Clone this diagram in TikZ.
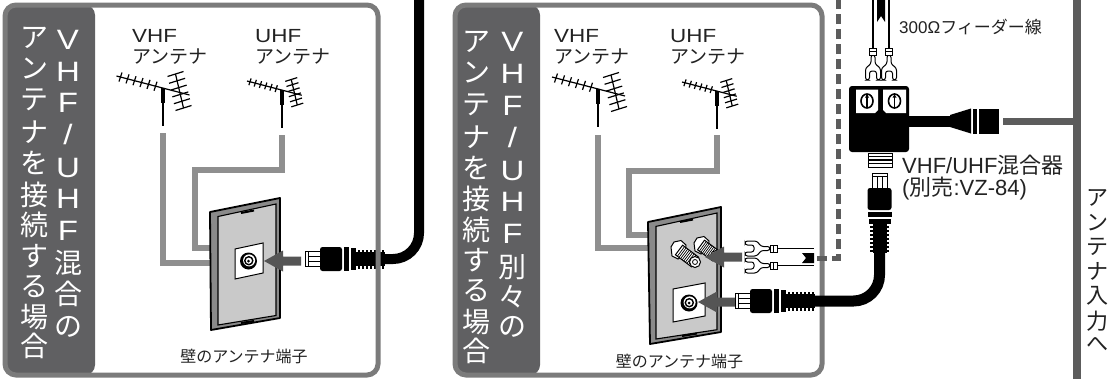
\documentclass[tikz,border=0pt]{standalone}
\usepackage{fontspec}
\setmainfont{Noto Sans CJK JP}
\newfontfamily\jpf{Noto Sans CJK JP}
\newfontfamily\latf{Liberation Sans}
\newfontfamily\latw[FakeStretch=1.18]{Liberation Sans}
\definecolor{bordergray}{HTML}{7B7B7B}
\definecolor{bandgray}{HTML}{606062}
\definecolor{cablegray}{HTML}{8F8F8F}
\definecolor{arrowgray}{HTML}{555555}
\definecolor{platemid}{HTML}{8A8A8A}
\definecolor{plateface}{HTML}{C9C9C9}
\definecolor{darkline}{HTML}{5C5C5C}
\definecolor{txtdark}{HTML}{222222}
\tikzset{
  panelborder/.style={draw=bordergray, line width=5pt, rounded corners=11pt},
  bandfill/.style={fill=bandgray, rounded corners=10pt},
  bandtxt/.style={text=white, inner sep=0pt, font=\jpf\fontsize{28}{28}\selectfont},
  lbl/.style={text=txtdark, inner sep=0pt, align=left, font=\jpf\fontsize{19}{20.5}\selectfont},
  smalllbl/.style={text=txtdark, inner sep=0pt, font=\jpf\fontsize{16}{16}\selectfont},
  midlbl/.style={text=txtdark, inner sep=0pt, align=left, font=\jpf\fontsize{22}{22}\selectfont},
  gcable/.style={draw=cablegray, line width=6pt, line join=miter},
  bcable/.style={draw=black, line width=10pt, rounded corners=26pt},
  platerim/.style={fill=platemid, draw=black, line width=1.8pt, line join=round},
  plateinner/.style={fill=plateface, draw=black, line width=1.1pt},
  socketbox/.style={fill=white, draw=black, line width=1pt},
  dashline/.style={draw=darkline, line width=5pt, dash pattern=on 10pt off 5pt},
  pics/yagi/.style={code={
    \begin{scope}[scale=#1, line width=1.2pt]
      \draw (-46,-12) -- (27,7);
      \foreach \tk in {-42,-35,-28,-21,-14,-7}
        \draw ({\tk-1.5},{0.26*(\tk)+4.5}) -- ({\tk+1.5},{0.26*(\tk)-4.5});
      \draw (13,-14) -- (21,20);
      \foreach \sv in {0,0.2,0.4,0.6,0.8,1}
        \draw ({5+8*\sv},{-11.5+34*\sv}) -- ({21+8*\sv},{-16.5+34*\sv});
    \end{scope}
    \draw[line width=4pt] (0,0) -- (0,15);
    \draw[line width=2pt] (0,15) -- (0,38);
  }},
  pics/fplug/.style={code={
    \filldraw[fill=white, draw=black, line width=1pt] (0,-7.5) rectangle (15,7.5);
    \draw[line width=1pt] (3.5,-7.5) -- (3.5,7.5) (3.5,-2.5) -- (15,-2.5) (3.5,2.5) -- (15,2.5);
    \fill[black, rounded corners=2.5pt] (15,-12) rectangle (37,12);
    \fill[black] (38.5,-12) rectangle (44,12);
    \fill[black] (45.5,-11) rectangle (51,11);
    \fill[black] (51,-7) rectangle (80,7);
    \foreach \k in {0,...,6}
      \fill[black] ({52.5+4*\k},-9.5) rectangle ({55+4*\k},9.5);
  }},
  pics/spade/.style={code={
    \filldraw[fill=white, draw=black, line width=1pt, rounded corners=2.5pt]
      (0,-7.5) -- (12,-7.5) -- (16,-2) -- (25,-2) -- (25,2) -- (16,2) -- (12,7.5)
      -- (0,7.5) -- (0,3.5) -- (9,3.5) -- (9,-3.5) -- (0,-3.5) -- cycle;
    \filldraw[fill=white, draw=black, line width=1pt] (25,-3.5) rectangle (32,3.5);
    \draw[line width=0.8pt] (28.5,-3.5) -- (28.5,3.5);
  }},
  pics/larrow/.style={code={
    \fill[arrowgray] (0,0) -- (19,-10.5) -- (19,-4.5) -- (37,-4.5) -- (37,4.5)
      -- (19,4.5) -- (19,10.5) -- cycle;
  }},
  pics/coaxsock/.style={code={
    \fill[black] (0,0) circle (8.5pt);
    \fill[white] (0.6,-0.6) circle (6pt);
    \draw[line width=1.4pt] (0.3,-0.3) circle (4pt);
    \fill[black] (0,0) circle (1.5pt);
  }}
}
\begin{document}
\begin{tikzpicture}[x=1pt,y=-1pt]
\useasboundingbox (0,0) rectangle (1120,378);
\fill[white] (0,0) rectangle (1120,378);

% ================= Panel 1
\fill[bandfill] (5,5) rectangle (95,375);
\foreach \ch/\yy [count=\i] in {{\latw V}/40,{\latw H}/72,{\latw F}/103,{\latw /}/134,{\latw U}/168,{\latw H}/199,{\latw F}/231,混/263,合/294,の/327}
  \node[bandtxt] (pa\i) at (68,\yy) {\ch};
\foreach \ch/\yy [count=\i] in {ア/38,ン/69,テ/100,ナ/132,を/163,接/195,続/225,す/256,る/287,場/317,合/346}
  \node[bandtxt] (pb\i) at (34.5,\yy) {\ch};

\pic at (162.5,88) {yagi=1};
\pic at (281.5,90) {yagi=0.75};
\node[lbl, anchor=west] (p1vhf) at (132,47) {{\latw VHF}\\アンテナ};
\node[lbl, anchor=west] (p1uhf) at (255,47) {{\latw UHF}\\アンテナ};
\draw[gcable] (162.5,133) -- (162.5,263) -- (212,263);
\draw[gcable] (281.5,135) -- (281.5,170) -- (194.5,170) -- (194.5,248) -- (212,248);

\filldraw[platerim] (210,212) -- (280,198) -- (280,318) -- (211,330) -- cycle;
\filldraw[plateinner] (218,216.5) -- (276,204) -- (276,315.5) -- (218,325) -- cycle;
\draw[line width=2pt] (241,213) -- (254,210.5);
\draw[line width=2pt] (241,323) -- (254,321);
\filldraw[socketbox] (235,249) -- (263,243) -- (263,273) -- (235,279) -- cycle;
\pic at (248.5,261) {coaxsock};
\pic at (264,261) {larrow};
\pic at (305,259) {fplug};
\draw[bcable] (382,259) -- (419,259) -- (419,-5);
\draw[panelborder] (5,5) rectangle (378,375);
\node[smalllbl] (p1wall) at (244,356) {壁のアンテナ端子};

% ================= Panel 2
\fill[bandfill] (455,5) rectangle (540,375);
\foreach \ch/\yy [count=\i] in {{\latw V}/42,{\latw H}/74,{\latw F}/106,{\latw /}/137,{\latw U}/171,{\latw H}/202,{\latw F}/234,別/267,々/297,の/327}
  \node[bandtxt] (pc\i) at (512.5,\yy) {\ch};
\foreach \ch/\yy [count=\i] in {ア/42,ン/73,テ/105,ナ/137,を/168,接/199,続/230,す/260,る/291,場/322,合/351}
  \node[bandtxt] (pd\i) at (476.5,\yy) {\ch};

\pic at (598,89) {yagi=1};
\pic at (716.5,91) {yagi=0.75};
\node[lbl, anchor=west] (p2vhf) at (554,47) {{\latw VHF}\\アンテナ};
\node[lbl, anchor=west] (p2uhf) at (670,47) {{\latw UHF}\\アンテナ};
\draw[gcable] (598,135) -- (598,248) -- (650,248);
\draw[gcable] (716.5,135) -- (716.5,171) -- (628.5,171) -- (628.5,235) -- (650,235);

\filldraw[platerim] (648,222) -- (721,207) -- (721,332) -- (650,344) -- cycle;
\filldraw[plateinner] (656,226.4) -- (717,213) -- (717,329.7) -- (656,339) -- cycle;
\draw[line width=2pt] (680,222) -- (693,219.5);
\draw[line width=2pt] (682,336) -- (697,333.5);
\filldraw[socketbox] (673,289) -- (705,283) -- (705,316) -- (673,322) -- cycle;
\pic at (689,303) {coaxsock};

% screw terminals
\filldraw[fill=white, draw=black, line width=1pt] (671,247) -- (674,242) -- (681,240.5) -- (686,245) -- (685,255) -- (678,259) -- (672,256) -- cycle;
\filldraw[fill=white, draw=black, line width=1pt] (675.4,254.8) -- (691.4,266.8) -- (698.6,257.2) -- (682.6,245.2) -- cycle;
\foreach \sv in {0.12,0.22,...,0.92}
  \draw[line width=0.7pt] ({675.4+16*\sv},{254.8+12*\sv}) -- ({682.6+16*\sv},{245.2+12*\sv});
\filldraw[fill=white, draw=black, line width=1pt] (695,262) circle (5.5pt);
\draw[line width=0.8pt] (695,262) circle (2.5pt);
\filldraw[fill=white, draw=black, line width=1pt] (694,243) -- (697,238) -- (704,236.5) -- (709,241) -- (708,250) -- (701,254) -- (695,251) -- cycle;
\filldraw[fill=white, draw=black, line width=1pt] (697.5,249.8) -- (712.5,260.8) -- (719.5,251.2) -- (704.5,240.2) -- cycle;
\foreach \sv in {0.12,0.22,...,0.92}
  \draw[line width=0.7pt] ({697.5+15*\sv},{249.8+11*\sv}) -- ({704.5+15*\sv},{240.2+11*\sv});
\filldraw[fill=white, draw=black, line width=1pt] (716,256) circle (5.5pt);
\draw[line width=0.8pt] (716,256) circle (2.5pt);

\pic at (705,257) {larrow};
\pic at (698,302) {larrow};
\draw[panelborder] (455,5) rectangle (822,375);
\node[smalllbl] (p2wall) at (679.5,361) {壁のアンテナ端子};

% feeder into panel 2
\pic at (745,248.5) {spade};
\pic at (745,265.5) {spade};
\draw[line width=1.5pt] (777,248.5) -- (814,248.5) (777,265.5) -- (814,265.5);
\fill[black] (814,253) -- (802,253) -- (806,258) -- (802,263) -- (814,263) -- cycle;
\draw[dashline] (817,258) -- (838,258) -- (838,0);

% lower plug and cable to mixer
\pic at (735,301) {fplug};
\draw[bcable, line width=11pt] (812,301) -- (879.5,301) -- (879.5,245);

% ================= Mixer
\draw[line width=1.6pt] (873,0) -- (873,48) (889,0) -- (889,48);
\fill[black] (877,0) -- (885,0) -- (885,22) -- (881,16) -- (877,22) -- cycle;
\pic[rotate=90] at (873,80) {spade};
\pic[rotate=90] at (889,80) {spade};
\fill[black, rounded corners=3pt] (849,86) rectangle (909,152);
\fill[white] (856,89.5) -- (878,89.5) -- (878,110) -- (875,113) -- (856,113) -- cycle;
\fill[white] (883,89.5) -- (906,89.5) -- (906,113) -- (886,113) -- (883,110) -- cycle;
\draw[line width=1.6pt] (867,101) ellipse (6pt and 7pt);
\draw[line width=1.6pt] (894.5,101) ellipse (6pt and 7pt);
\draw[line width=1.3pt] (867,95) -- (867,107) (894.5,95) -- (894.5,107);
\fill[black] (865,97.5) -- (867,94.5) -- (869,97.5) -- cycle;
\fill[black] (892.5,97.5) -- (894.5,94.5) -- (896.5,97.5) -- cycle;
\filldraw[fill=white, draw=black, line width=1pt] (868,153) rectangle (892,167);
\draw[line width=1.5pt] (868,156.5) -- (892,156.5) (868,160) -- (892,160) (868,163.5) -- (892,163.5);
\pic[rotate=-90] at (879.5,173) {fplug};

% mixer output
\draw[line width=11pt] (905,121) -- (951,121);
\fill[black] (950,115) -- (971,108.5) -- (971,133.5) -- (950,127) -- cycle;
\fill[black] (973,108.5) rectangle (977,133.5);
\fill[black] (979,108.5) rectangle (999,133.5);
\draw[darkline, line width=7pt] (1003,121) -- (1077,121);
\draw[darkline, line width=7.5pt] (1077,-2) -- (1077,380);

% texts
\node[smalllbl, anchor=west, font=\jpf\fontsize{17}{17}\selectfont] (feeder) at (899,27) {{\latf 300Ω}フィーダー線};
\node[midlbl, anchor=west] (mixer) at (902,178) {{\latf VHF/UHF}混合器\\{\latf (}別売{\latf :VZ-84)}};
\foreach \ch/\yy [count=\i] in {ア/198,ン/223,テ/247,ナ/271,入/296,力/321,へ/344}
  \node[midlbl] (pe\i) at (1097.5,\yy) {\ch};
\end{tikzpicture}
\end{document}
